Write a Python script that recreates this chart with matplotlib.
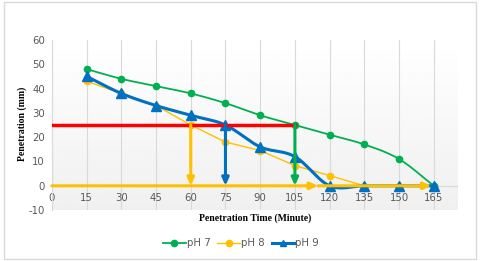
import numpy as np
import matplotlib
matplotlib.use("Agg")
import matplotlib.pyplot as plt
from matplotlib.patches import Rectangle

plt.rcParams["axes.unicode_minus"] = False

# data
times = [15, 30, 45, 60, 75, 90, 105, 120, 135, 150, 165]
ph7 = [48, 44, 41, 38, 34, 29, 25, 21, 17, 11, 0]
ph8 = [43, 38, 33, 25, 18, 14.5, 8.3, 4.2, 0, 0, 0]
ph9 = [45, 38, 33, 29, 25, 16, 12, 0, 0, 0, 0]
xticks = [0, 15, 30, 45, 60, 75, 90, 105, 120, 135, 150, 165]
yticks = [-10, 0, 10, 20, 30, 40, 50, 60]

# reading guides (level, end times for each series)
level = 25
t_ph8, t_ph9, t_ph7 = 60, 75, 105

green = "#00B050"
orange = "#FFC000"
blue = "#0070C0"
red = "#FF0000"
grey = "#595959"


def smooth(x, y, n=20):
    # catmull-rom curve through the points, like excel "smoothed line"
    x = np.asarray(x, float)
    y = np.asarray(y, float)
    px = np.concatenate([[2 * x[0] - x[1]], x, [2 * x[-1] - x[-2]]])
    py = np.concatenate([[2 * y[0] - y[1]], y, [2 * y[-1] - y[-2]]])
    xs, ys = [], []
    t = np.linspace(0, 1, n, endpoint=False)
    for i in range(1, len(px) - 2):
        for p, out in ((px, xs), (py, ys)):
            p0, p1, p2, p3 = p[i - 1], p[i], p[i + 1], p[i + 2]
            out.extend(0.5 * (2 * p1 + (-p0 + p2) * t
                              + (2 * p0 - 5 * p1 + 4 * p2 - p3) * t ** 2
                              + (-p0 + 3 * p1 - 3 * p2 + p3) * t ** 3))
    xs.append(x[-1])
    ys.append(y[-1])
    return np.array(xs), np.array(ys)


fig = plt.figure(figsize=(4.8, 2.61), dpi=100)
fig.patches.append(Rectangle((0.008, 0.008), 0.984, 0.984, transform=fig.transFigure,
                             fill=False, ec="#D9D9D9", lw=1))
ax = fig.add_axes([0.108, 0.195, 0.844, 0.652])

# gradient background of the plot area
grad = np.linspace(1.0, 0.94, 100).reshape(-1, 1)
ax.imshow(grad, cmap="gray", vmin=0, vmax=1, aspect="auto",
          extent=[0, 1, 0, 1], transform=ax.transAxes, zorder=0)

ax.set_xlim(0, 175)
ax.set_ylim(-10, 60)
ax.set_xticks(xticks)
ax.set_yticks(yticks)
ax.grid(axis="x", color="#D9D9D9", lw=0.8, zorder=1)
for s in ["top", "right"]:
    ax.spines[s].set_visible(False)
ax.spines["left"].set_color("#D9D9D9")
ax.spines["bottom"].set_position(("data", 0))
ax.spines["bottom"].set_color("#D9D9D9")
ax.tick_params(length=0, labelsize=7.3, colors=grey, pad=5)

sx, sy = smooth(times, ph7)
ax.plot(sx, sy, color=green, lw=1.3, zorder=4)
ax.plot(times, ph7, "o", color=green, ms=4.5, zorder=5)
ax.plot(times, ph8, color=orange, lw=1.0, zorder=3)
ax.plot(times, ph8, "o", color=orange, ms=4.5, zorder=3)
sx, sy = smooth(times, ph9)
ax.plot(sx, sy, color=blue, lw=2.2, zorder=6)
ax.plot(times, ph9, "^", color=blue, ms=7, zorder=6)

# legend handles
ax.plot([], [], "-o", color=green, lw=1.3, ms=4.5, label="pH 7")
ax.plot([], [], "-o", color=orange, lw=1.0, ms=4.5, label="pH 8")
ax.plot([], [], "-^", color=blue, lw=2.2, ms=5, label="pH 9")

# guide lines
ax.plot([0, t_ph7], [level, level], color=red, lw=2.5, zorder=7)
arw = dict(arrowstyle="-|>,head_length=0.45,head_width=0.2", lw=2.2, shrinkA=0, shrinkB=0)
for t, c in ((t_ph8, orange), (t_ph9, blue), (t_ph7, green)):
    ax.annotate("", xy=(t, 0), xytext=(t, level),
                arrowprops=dict(arw, color=c), zorder=8)
ax.annotate("", xy=(115, 0), xytext=(0, 0), arrowprops=dict(arw, color=orange), zorder=8)
ax.annotate("", xy=(164, 0), xytext=(115, 0), arrowprops=dict(arw, color=orange), zorder=8)

ax.set_ylabel("Penetration (mm)", family="Liberation Serif", fontweight="bold",
              fontsize=7, color="black")
ax.yaxis.set_label_coords(-0.062, 0.505)
fig.text(0.531, 0.165, "Penetration Time (Minute)", family="Liberation Serif",
         fontweight="bold", fontsize=7, ha="center", va="center")

leg = fig.legend(loc="center", bbox_to_anchor=(0.502, 0.068), ncol=3, frameon=False,
                 fontsize=7.3, handlelength=2.2, columnspacing=0.7, handletextpad=0.1)
for txt in leg.get_texts():
    txt.set_color(grey)

fig.savefig("out.png", dpi=100)
